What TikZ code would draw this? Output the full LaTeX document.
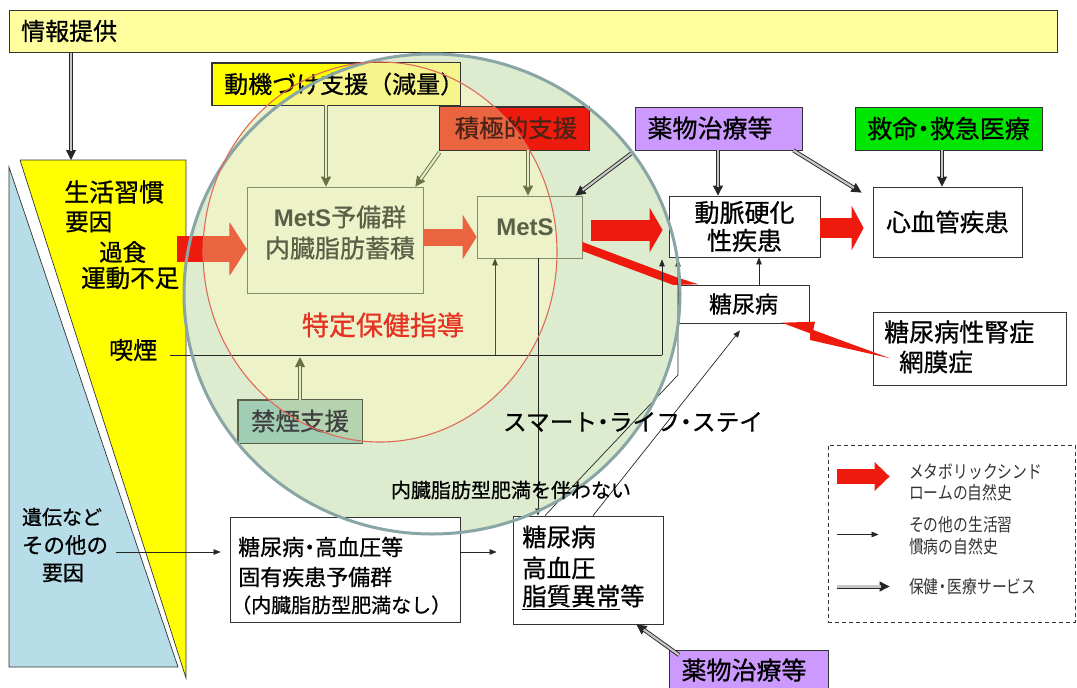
\documentclass[tikz,border=0pt]{standalone}
\usepackage{fontspec}
\newfontfamily\jp[FakeBold=0.7]{Noto Sans CJK JP}
\newfontfamily\jpl{Noto Sans CJK JP}
\newfontfamily\jpn[FakeStretch=0.82]{Noto Sans CJK JP}
\newfontfamily\lsans{Liberation Sans}
\usetikzlibrary{arrows.meta,calc}
\definecolor{infoY}{HTML}{FFFFA0}
\definecolor{yelF}{HTML}{FFFF00}
\definecolor{blueF}{HTML}{B6DDE8}
\definecolor{gFill}{HTML}{DDEBCE}
\definecolor{rFill}{HTML}{EEF2C8}
\definecolor{gLine}{HTML}{8AA5A6}
\definecolor{rLine}{HTML}{E06A5A}
\definecolor{redA}{HTML}{EE1A0E}
\definecolor{orgA}{HTML}{EB6440}
\definecolor{lav}{HTML}{CC99FF}
\definecolor{grn}{HTML}{00E600}
\definecolor{oliveA}{HTML}{687244}
\definecolor{oliveL}{HTML}{E4EAC8}
\definecolor{gtxt}{HTML}{5A5F48}
\definecolor{quitF}{HTML}{A2CDB5}
\definecolor{quitIn}{HTML}{B4D3AE}
\definecolor{motIn}{HTML}{F5F58C}
\definecolor{txtR}{HTML}{E53222}
\definecolor{actT}{HTML}{4A2416}
\newcommand\fs[2]{\fontsize{#1}{#2}\selectfont}
\newcommand\nd{\makebox[0.5em]{・}}
\newcommand\dbl[4]{%
  \draw[line width=0.9pt,draw=#1,-{Triangle[length=10pt,width=10pt]}] (#3) -- (#4);
  \draw[line width=0.9pt,draw=#1,double=#2,double distance=2.2pt,shorten >=9pt] (#3) -- (#4);}
\tikzset{
  wbox/.style={draw=black!80,line width=0.8pt,fill=white,rectangle,inner sep=0pt},
  obox/.style={draw=oliveA!80,line width=0.8pt,rectangle,inner sep=0pt},
  lbl/.style={inner sep=0pt},
  jsz/.style={font=\jp\fs{#1}{#1}},
  thinarr/.style={line width=0.7pt,draw=black!85,-{Triangle[length=7pt,width=5.5pt]}},
}
\begin{document}
\begin{tikzpicture}[x=1pt,y=-1pt]
\useasboundingbox (0,0) rectangle (1077,688);
% left shapes
\filldraw[fill=blueF,draw=black!80,line width=0.7pt] (9,167) -- (178,667) -- (9,667) -- cycle;
\filldraw[fill=yelF,draw=black!80,line width=0.7pt] (20,160) -- (186,160) -- (186,678) -- cycle;
% info
\node[wbox,fill=infoY,minimum width=1048,minimum height=42,anchor=north west] (info) at (9,10) {};
\node[lbl,jsz=24,anchor=west] (infot) at (21,31) {情報提供};
% circles fill
\fill[gFill] (432,294) ellipse [x radius=248pt,y radius=240pt];
\fill[rFill] (380,252) ellipse [x radius=177pt,y radius=190pt];
% motiv
\node[wbox,fill=yelF,minimum width=248,minimum height=42] (motiv) at (336,84) {};
\begin{scope}
\clip (432,294) ellipse [x radius=248pt,y radius=240pt];
\fill[motIn] (motiv.north west) rectangle (motiv.south east);
\end{scope}
\draw[draw=black!80,line width=0.8pt] (motiv.north west) rectangle (motiv.south east);
\node[lbl,jsz=24,anchor=west] (motivt) at (224,84) {動機づけ支援（減量）};
% active
\node[wbox,fill=redA,minimum width=149,minimum height=43] (active) at (514.5,128.5) {};
\begin{scope}
\clip (380,252) ellipse [x radius=177pt,y radius=190pt];
\fill[orgA] (active.north west) rectangle (active.south east);
\end{scope}
\draw[draw=black!80,line width=0.8pt] (active.north west) rectangle (active.south east);
\node[lbl,jsz=24.5,text=actT] (activet) at (516,128) {積極的支援};
% quit
\node[wbox,fill=quitF,draw=gtxt,minimum width=124,minimum height=43] (quit) at (300,421.5) {};
\begin{scope}
\clip (380,252) ellipse [x radius=177pt,y radius=190pt];
\fill[quitIn] (quit.north west) rectangle (quit.south east);
\end{scope}
\draw[draw=gtxt,line width=0.8pt] (quit.north west) rectangle (quit.south east);
\node[lbl,jsz=24.5,text=black!75] (quitt) at (300,421) {禁煙支援};
% inner boxes
\node[obox,minimum width=176,minimum height=106] (pre) at (335,240) {};
\node[obox,minimum width=105,minimum height=62] (mets) at (529.5,227) {};
\node[lbl,text=gtxt,align=center,font=\jp\fs{25}{31}] (pret) at (340,232.5) {{\lsans\bfseries\fs{24}{31}MetS}予備群\\内臓脂肪蓄積};
\node[lbl,text=gtxt,font=\lsans\bfseries\fs{24}{24}] (metst) at (525,227) {MetS};
% white boxes
\node[wbox,minimum width=151,minimum height=61,align=center,font=\jp\fs{25}{28}] (athero) at (744.5,226.5) {動脈硬化\\性疾患};
\node[wbox,minimum width=149,minimum height=70,jsz=24.5] (cvd) at (947.5,222) {心血管疾患};
\node[wbox,minimum width=131,minimum height=38,jsz=23] (dm1) at (743.5,304) {糖尿病};
\node[wbox,minimum width=193,minimum height=73] (nephro) at (969.5,348.5) {};
\node[lbl,jsz=25,anchor=west] (nt1) at (884,332) {糖尿病性腎症};
\node[lbl,jsz=24.5,anchor=west] (nt2) at (899,362) {網膜症};
\node[wbox,fill=lav,minimum width=167,minimum height=43] (drug1) at (718.5,128.5) {};
\node[lbl,jsz=25] (drug1t) at (710,128) {薬物治療等};
\node[wbox,fill=grn,minimum width=187,minimum height=43,jsz=25] (rescue) at (948.5,128.5) {救命\nd 救急医療};
\node[wbox,minimum width=230,minimum height=105] (prebox) at (345,569.5) {};
\node[lbl,jsz=22,anchor=west] (pb1) at (238,547) {糖尿病\nd 高血圧等};
\node[lbl,jsz=22,anchor=west] (pb2) at (238,577) {固有疾患予備群};
\node[lbl,jsz=20,anchor=west] (pb3) at (231,605) {（内臓脂肪型肥満なし）};
\node[wbox,minimum width=150,minimum height=108] (dm2) at (588,570) {};
\node[lbl,jsz=24.5,anchor=west] (d21) at (522,537) {糖尿病};
\node[lbl,jsz=24.5,anchor=west] (d22) at (522,568) {高血圧};
\node[lbl,jsz=24.5,anchor=west] (d23) at (522,597) {\underline{脂質異常}等};
\node[wbox,fill=lav,minimum width=159,minimum height=50,anchor=north west] (drug2) at (669,650) {};
\node[lbl,jsz=25] (drug2t) at (744,670) {薬物治療等};
% block arrows
\draw[redA,line width=26pt,-{Triangle[length=17pt,width=52pt]}] (177,249) -- ($(pre.west)+(0,9)$);
\begin{scope}
\clip (380,252) ellipse [x radius=177pt,y radius=190pt];
\draw[orgA,line width=26pt,-{Triangle[length=17pt,width=52pt]}] (177,249) -- ($(pre.west)+(0,9)$);
\end{scope}
\draw[orgA,line width=17pt,-{Triangle[length=14pt,width=44pt]}] (pre.east |- 0,237) -- (mets.west |- 0,237);
\draw[redA,line width=21pt,-{Triangle[length=13pt,width=44pt]}] ($(mets.east)+(9,3)$) -- ($(athero.west)+(-6,3.5)$);
\draw[redA,line width=20pt,-{Triangle[length=12pt,width=44pt]}] (athero.east |- 0,228) -- ($(cvd.west |- 0,228)+(-9,0)$);
\fill[redA] ($(mets.east)+(0,15)$) -- (676.7,277.3) -- (698.3,284.3) -- (673.3,285) -- ($(mets.east)+(0,24)$) -- cycle;
\fill[redA] (781.7,322.7) -- (815,321.7) -- (813.3,330) -- (890,358.3) -- (810,340) -- (810,333.3) -- cycle;
% double arrows
\dbl{black!85}{black!22}{71,0 |- info.south}{71,160}
\dbl{oliveA}{oliveL}{326,0 |- motiv.south}{326,0 |- pre.north}
\dbl{oliveA}{oliveL}{$(active.south west)+(0,2)$}{$(pre.north east)+(-8,0)$}
\dbl{oliveA}{oliveL}{528,0 |- active.south}{528,0 |- mets.north}
\dbl{black!85}{black!22}{$(drug1.south west)+(-2,2)$}{$(mets.north east)+(-7,0)$}
\dbl{black!85}{black!22}{718,0 |- drug1.south}{718,0 |- athero.north}
\dbl{black!85}{black!22}{$(drug1.south east)+(-9,0)$}{$(cvd.north west)+(-11,6)$}
\dbl{black!85}{black!22}{942,0 |- rescue.south}{942,0 |- cvd.north}
\dbl{black!85}{black!22}{$(drug2.north west)+(10,5)$}{$(dm2.south east)+(-27,0)$}
\dbl{oliveA}{oliveL}{300,0 |- quit.north}{300,357}
% yellow texts
\node[lbl,jsz=25,anchor=west] (ls1) at (64,192) {生活習慣};
\node[lbl,jsz=23.5,anchor=west] (ls2) at (65,222) {要因};
\node[lbl,jsz=23.5,anchor=west] (ls3) at (99,252) {過食};
\node[lbl,jsz=24.5,anchor=west] (ls4) at (81,278) {運動不足};
\node[lbl,jsz=24,anchor=west] (smk) at (109,350) {喫煙};
\node[lbl,jsz=20] (o1) at (62,517) {遺伝など};
\node[lbl,jsz=21.5] (o2) at (65,545) {その他の};
\node[lbl,jsz=21] (o3) at (63,573) {要因};
% thin arrows
\draw[line width=0.7pt,black!85] ($(smk.east)+(13,5)$) -- (662,355);
\draw[thinarr] (662,355) -- ($(662,0 |- athero.south)+(0,2)$);
\draw[thinarr,draw=oliveA!70!black] (495,355) -- (495,0 |- mets.south);
\draw[thinarr] ($(o2.east)+(8,7)$) -- ($(prebox.west |- 0,552)+(-9,0)$);
\draw[thinarr] (prebox.east |- 0,552) -- ($(dm2.west |- 0,552)+(-16,0)$);
\draw[thinarr] (538,0 |- mets.south) -- (538,0 |- dm2.north);
\draw[thinarr] (759,0 |- dm1.north) -- (759,0 |- athero.south);
\draw[thinarr] (545,0 |- dm2.north) -- (678,375) -- ($(678,0 |- athero.south)+(0,2)$);
\draw[thinarr] (593,0 |- dm2.north) -- ($(740,0 |- dm1.south)+(0,7)$);
% legend
\node[draw=black!80,dash pattern=on 4pt off 3pt,line width=0.8pt,minimum width=247,minimum height=177,inner sep=0pt] (leg) at (951.5,533.5) {};
\draw[redA,line width=15pt,-{Triangle[length=15pt,width=28pt]}] ($(leg.west)+(9,-57)$) -- ($(leg.west)+(62,-57)$);
\draw[thinarr] ($(leg.west)+(9,1)$) -- ($(leg.west)+(51,1)$);
\dbl{black!85}{black!22}{$(leg.west)+(9,53)$}{$(leg.west)+(62,53)$}
\node[lbl,font=\jpn\fs{18}{21},align=left,anchor=west,text=black!80] (lt1) at (909,482.5) {メタボリックシンド\\ロームの自然史};
\node[lbl,font=\jpn\fs{18}{22},align=left,anchor=west,text=black!80] (lt2) at (909,536) {その他の生活習\\慣病の自然史};
\node[lbl,font=\jpn\fs{18}{18},anchor=west,text=black!80] (lt3) at (909,587) {保健\nd 医療サービス};
% circle outlines
\draw[gLine,line width=3pt] (432,294) ellipse [x radius=248pt,y radius=240pt];
\draw[rLine,line width=1.1pt] (380,252) ellipse [x radius=177pt,y radius=190pt];
% free texts
\node[lbl,jsz=27,text=txtR] (tokutei) at (383,325) {特定保健指導};
\node[lbl,jsz=23.7] (smart) at (633,422) {スマート\nd ライフ\nd ステイ};
\node[lbl,jsz=20] (naizo) at (511,490) {内臓脂肪型肥満を伴わない};
\end{tikzpicture}
\end{document}
